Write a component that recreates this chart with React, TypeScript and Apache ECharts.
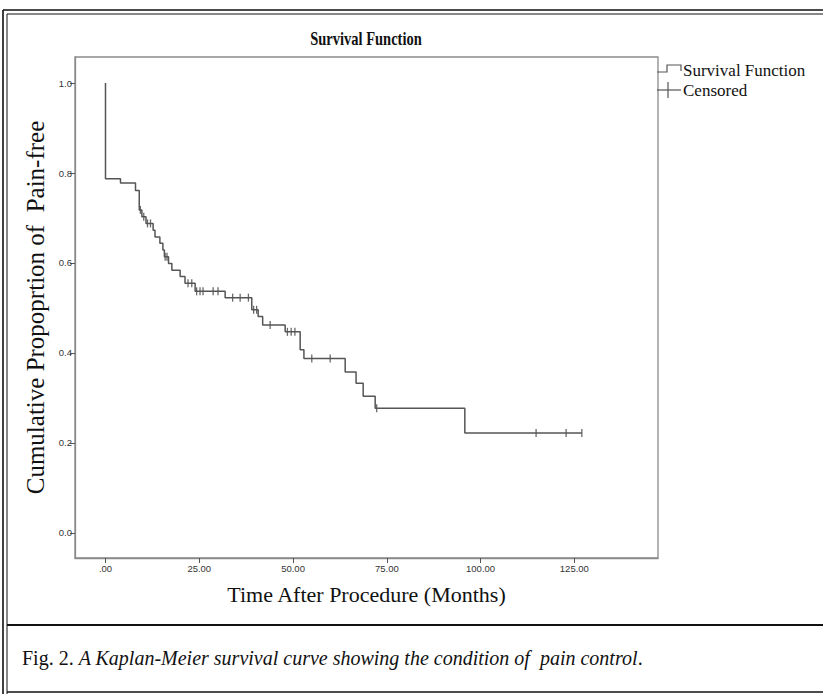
import React, { useEffect, useRef } from "react";
import * as echarts from "echarts";

// Kaplan-Meier event times (months) and survival after each event
const eventTimes = [0, 4, 8, 9, 9.7, 10.8, 12.7, 13.2, 14.5, 15.3, 15.7, 16.8, 17.7, 19.9, 21.2, 23.9, 31.9, 39, 40.7, 41.9, 47.9, 51.9, 52.9, 63.9, 66.8, 68.7, 71.9, 95.8];
const survival = [0.787, 0.778, 0.761, 0.718, 0.703, 0.688, 0.673, 0.658, 0.644, 0.629, 0.614, 0.599, 0.584, 0.57, 0.555, 0.537, 0.523, 0.496, 0.481, 0.462, 0.447, 0.407, 0.388, 0.358, 0.333, 0.304, 0.277, 0.222];
// Censored observation times (months)
const censoredTimes = [9.3, 10.2, 11.2, 12.0, 15.9, 16.4, 22.0, 23.0, 24.3, 25.2, 26.0, 28.7, 30.0, 33.9, 35.9, 38.1, 39.5, 40.3, 43.9, 48.5, 49.5, 50.5, 55.0, 59.9, 72.3, 114.8, 122.8, 127.0];

const xTicks = [0, 25, 50, 75, 100, 125];
const yTicks = [0, 0.2, 0.4, 0.6, 0.8, 1.0];

const titleText = "Survival Function";
const xTitle = "Time After Procedure (Months)";
const yTitle = "Cumulative Propoprtion of  Pain-free";
const legendNames = ["Survival Function", "Censored"];

function survAt(t: number): number {
  let s = 1;
  for (let i = 0; i < eventTimes.length; i++) {
    if (eventTimes[i] <= t) s = survival[i];
  }
  return s;
}

export default function App() {
  const ref = useRef<HTMLDivElement>(null);
  useEffect(() => {
    if (!ref.current) return;
    const chart = echarts.init(ref.current, undefined, { renderer: "svg" });
    const curve: number[][] = [[0, 1]];
    eventTimes.forEach((t, i) => curve.push([t, survival[i]]));
    const lastT = Math.max(...censoredTimes);
    curve.push([lastT, survAt(lastT)]);
    const cens = censoredTimes.map((t) => [t, survAt(t)]);
    const serif = "'Liberation Serif', 'Times New Roman', serif";
    const sans = "'Liberation Sans', Arial, sans-serif";
    const lineColor = "#555";
    const boxColor = "#8a8a8a";

    chart.setOption({
      animation: false,
      backgroundColor: "#fff",
      grid: {
        left: 75,
        right: 165,
        top: 57,
        bottom: 136,
        show: true,
        borderColor: boxColor,
        borderWidth: 1.3,
        backgroundColor: "transparent",
      },
      xAxis: {
        type: "value",
        min: -8.13,
        max: 147.3,
        name: xTitle,
        nameLocation: "middle",
        nameGap: 25,
        nameTextStyle: { fontFamily: serif, fontSize: 22, color: "#111" },
        axisLine: { show: true, onZero: false, lineStyle: { color: boxColor, width: 1.3 } },
        axisTick: { show: true, length: 5, customValues: xTicks, lineStyle: { color: "#555" } },
        axisLabel: {
          customValues: xTicks,
          fontFamily: sans,
          fontSize: 9.5,
          color: "#333",
          margin: 5,
          formatter: (v: number) => (v === 0 ? ".00" : v.toFixed(2)),
        },
        splitLine: { show: false },
      },
      yAxis: {
        type: "value",
        min: -0.0556,
        max: 1.0578,
        name: yTitle,
        nameLocation: "middle",
        nameGap: 24,
        nameTextStyle: { fontFamily: serif, fontSize: 25, color: "#111" },
        axisLine: { show: true, onZero: false, lineStyle: { color: boxColor, width: 1.3 } },
        axisTick: { show: true, length: 5, customValues: yTicks, lineStyle: { color: "#555" } },
        axisLabel: {
          customValues: yTicks,
          fontFamily: sans,
          fontSize: 9.5,
          color: "#333",
          margin: 3,
          formatter: (v: number) => v.toFixed(1),
        },
        splitLine: { show: false },
      },
      series: [
        {
          name: legendNames[0],
          type: "line",
          step: "end",
          data: curve,
          showSymbol: false,
          lineStyle: { color: lineColor, width: 1.5 },
        },
        {
          name: legendNames[1],
          type: "scatter",
          data: cens,
          symbol: "rect",
          symbolSize: [1.3, 8],
          itemStyle: { color: "#444" },
        },
      ],
      graphic: [
        // outer frame
        { type: "line", shape: { x1: 3, y1: 10, x2: 3, y2: 694 }, style: { stroke: "#111", lineWidth: 1.6 } },
        { type: "line", shape: { x1: 7, y1: 14, x2: 7, y2: 694 }, style: { stroke: "#111", lineWidth: 1 } },
        { type: "line", shape: { x1: 3, y1: 10, x2: 823, y2: 10 }, style: { stroke: "#111", lineWidth: 1.6 } },
        { type: "line", shape: { x1: 7, y1: 14, x2: 823, y2: 14 }, style: { stroke: "#111", lineWidth: 1 } },
        { type: "line", shape: { x1: 7, y1: 625, x2: 823, y2: 625 }, style: { stroke: "#111", lineWidth: 2 } },
        { type: "line", shape: { x1: 7, y1: 692, x2: 823, y2: 692 }, style: { stroke: "#111", lineWidth: 1.6 } },
        // title
        {
          type: "text",
          x: 366,
          y: 39,
          scaleY: 1.25,
          style: {
            text: titleText,
            fontFamily: serif,
            fontWeight: "bold",
            fontSize: 14.5,
            fill: "#111",
            textAlign: "center",
            textVerticalAlign: "middle",
          },
        },
        // legend
        {
          type: "polyline",
          shape: { points: [[657, 72], [667, 72], [667, 65], [681, 65], [681, 71]] },
          style: { stroke: "#555", lineWidth: 1.2, fill: "none" },
        },
        { type: "line", shape: { x1: 657, y1: 90, x2: 681, y2: 90 }, style: { stroke: "#555", lineWidth: 1.2 } },
        { type: "line", shape: { x1: 668, y1: 82, x2: 668, y2: 98 }, style: { stroke: "#555", lineWidth: 1.2 } },
        {
          type: "text",
          x: 683,
          y: 70,
          style: { text: legendNames[0], fontFamily: serif, fontSize: 17, fill: "#111", textVerticalAlign: "middle" },
        },
        {
          type: "text",
          x: 683,
          y: 90,
          style: { text: legendNames[1], fontFamily: serif, fontSize: 17, fill: "#111", textVerticalAlign: "middle" },
        },
        // caption
        {
          type: "text",
          x: 22,
          y: 658,
          style: {
            text: "{n|Fig. 2. }{it|A Kaplan-Meier survival curve showing the condition of  pain control}{n|.}",
            textVerticalAlign: "middle",
            rich: {
              n: { fontFamily: serif, fontSize: 20, fill: "#111" },
              it: { fontFamily: serif, fontSize: 20, fontStyle: "italic", fill: "#111" },
            },
          },
        },
      ],
    });
    return () => chart.dispose();
  }, []);
  return <div ref={ref} style={{ position: "fixed", left: 0, top: 0, width: 823, height: 694 }} />;
}
